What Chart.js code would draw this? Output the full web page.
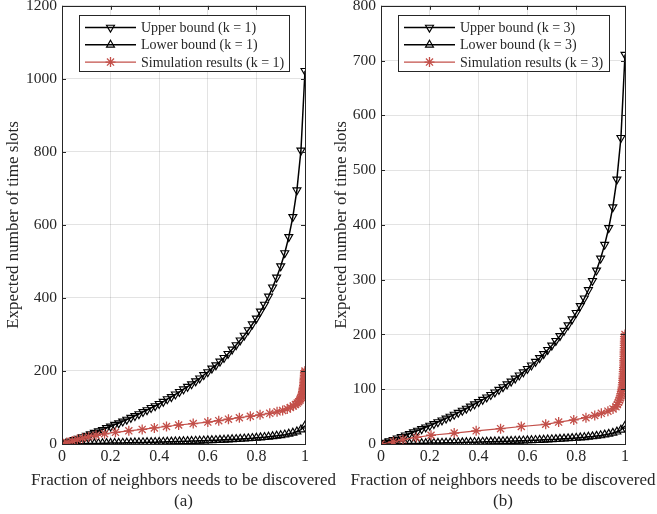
<!DOCTYPE html>
<html>
<head>
<meta charset="utf-8">
<script src="https://cdn.jsdelivr.net/npm/chart.js@4.4.1/dist/chart.umd.min.js"></script>
<style>
  html, body { margin: 0; padding: 0; background: #fff; }
  #wrap { position: relative; width: 657px; height: 514px; overflow: hidden; }
  canvas { position: absolute; }
</style>
</head>
<body>
<div id="wrap">
  <canvas id="chartA" width="345" height="519" style="left:0px;top:-5px"></canvas>
  <canvas id="chartB" width="331" height="519" style="left:326px;top:-5px"></canvas>
</div>
<script>
// fraction of neighbours discovered (x of the bound curves)
const fraction = [0, 0.0167, 0.0333, 0.05, 0.0667, 0.0833, 0.1, 0.1167, 0.1333, 0.15, 0.1667,
  0.1833, 0.2, 0.2167, 0.2333, 0.25, 0.2667, 0.2833, 0.3, 0.3167, 0.3333,
  0.35, 0.3667, 0.3833, 0.4, 0.4167, 0.4333, 0.45, 0.4667, 0.4833, 0.5,
  0.5167, 0.5333, 0.55, 0.5667, 0.5833, 0.6, 0.6167, 0.6333, 0.65, 0.6667,
  0.6833, 0.7, 0.7167, 0.7333, 0.75, 0.7667, 0.7833, 0.8, 0.8167, 0.8333,
  0.85, 0.8667, 0.8833, 0.9, 0.9167, 0.9333, 0.95, 0.9667, 0.9833, 1];

const upperK1 = [0, 4, 7, 11, 15, 19, 23, 27, 31, 35, 39,
  44, 48, 53, 57, 62, 67, 72, 77, 82, 88,
  93, 99, 104, 110, 116, 123, 129, 136, 143, 150,
  157, 164, 172, 180, 189, 197, 207, 216, 226, 236,
  247, 259, 271, 284, 297, 312, 328, 344, 363, 382,
  404, 429, 456, 487, 523, 567, 622, 695, 804, 1022];
const lowerK1 = [0, 0.2, 0.4, 0.5, 0.7, 0.9, 1.1, 1.3, 1.5, 1.7, 1.9,
  2.1, 2.4, 2.6, 2.8, 3.0, 3.3, 3.5, 3.8, 4.0, 4.3,
  4.6, 4.8, 5.1, 5.4, 5.7, 6.0, 6.3, 6.6, 7.0, 7.3,
  7.7, 8.1, 8.4, 8.8, 9.2, 9.7, 10.1, 10.6, 11.1, 11.6,
  12.1, 12.7, 13.3, 13.9, 14.6, 15.3, 16.0, 16.9, 17.8, 18.7,
  19.8, 21.0, 22.3, 23.9, 25.6, 27.8, 30.5, 34.0, 39.4, 50.1];
const upperK3 = [0, 2.5, 5.1, 7.7, 10.4, 13.1, 15.9, 18.7, 21.6, 24.5, 27.4,
  30.5, 33.6, 36.7, 40.0, 43.3, 46.7, 50.1, 53.7, 57.3, 61.0,
  64.8, 68.7, 72.7, 76.8, 81.0, 85.3, 89.8, 94.4, 99.1, 104.0,
  109.1, 114.3, 119.8, 125.4, 131.2, 137.3, 143.6, 150.2, 157.1, 164.4,
  172.0, 180.0, 188.4, 197.3, 206.8, 217.0, 227.8, 239.5, 252.2, 266.0,
  281.2, 298.0, 317.0, 338.7, 364.0, 394.4, 432.4, 483.0, 559.0, 710.9];
const lowerK3 = [0, 0.1, 0.2, 0.4, 0.5, 0.6, 0.7, 0.9, 1.0, 1.1, 1.3,
  1.4, 1.6, 1.7, 1.9, 2.0, 2.2, 2.3, 2.5, 2.7, 2.8,
  3.0, 3.2, 3.4, 3.6, 3.8, 4.0, 4.2, 4.4, 4.6, 4.8,
  5.1, 5.3, 5.6, 5.8, 6.1, 6.4, 6.7, 7.0, 7.3, 7.6,
  8.0, 8.4, 8.7, 9.2, 9.6, 10.1, 10.6, 11.1, 11.7, 12.3,
  13.1, 13.8, 14.7, 15.7, 16.9, 18.3, 20.1, 22.4, 25.9, 33.0];

// simulation: time slot and the fraction found by then
const simSlots = [0, 4, 8, 12, 16, 20, 24, 28, 32, 36, 40, 44, 48, 52, 56, 60, 64, 68, 72, 76,
  80, 84, 88, 92, 96, 100, 104, 108, 112, 116, 120, 124, 128, 132, 136, 140, 144, 148,
  152, 156, 160, 164, 168, 172, 176, 180, 184, 188, 192, 196, 200];
const simFracK1 = [0, 0.02, 0.042, 0.063, 0.085, 0.11, 0.14, 0.175, 0.22, 0.275, 0.33,
  0.38, 0.43, 0.48, 0.54, 0.60, 0.645, 0.685, 0.73, 0.775, 0.815,
  0.855, 0.885, 0.908, 0.927, 0.94, 0.952, 0.961, 0.968, 0.974, 0.979,
  0.982, 0.985, 0.987, 0.989, 0.991, 0.992, 0.993, 0.994, 0.995, 0.996,
  0.9965, 0.997, 0.9975, 0.998, 0.9985, 0.999, 0.9993, 0.9995, 0.9997, 0.9999];
const simFracK3 = [0, 0.05, 0.09, 0.145, 0.205, 0.30, 0.39, 0.49, 0.575, 0.675, 0.728,
  0.79, 0.84, 0.876, 0.903, 0.93, 0.951, 0.963, 0.969, 0.973, 0.977,
  0.98, 0.983, 0.985, 0.987, 0.989, 0.99, 0.991, 0.992, 0.993, 0.9935,
  0.994, 0.9945, 0.995, 0.9955, 0.996, 0.9965, 0.997, 0.9972, 0.9975, 0.9978,
  0.998, 0.9983, 0.9985, 0.9988, 0.999, 0.9992, 0.9994, 0.9996, 0.9998, 1.0];

const xTicks = [0, 0.2, 0.4, 0.6, 0.8, 1];
const xTitle = 'Fraction of neighbors needs to be discovered';

const INK = '#262626';
const SIM_RED = '#c3504a';
const SERIF = "'Liberation Serif', 'DejaVu Serif', serif";

function pts(xs, ys) {
  return xs.map((x, i) => ({ x: x, y: ys[i] }));
}

// box, inward ticks, x title and the legend drawn inside the axes
const boxPlugin = {
  id: 'matlabBox',
  afterDraw(chart, args, opts) {
    const ctx = chart.ctx;
    const a = chart.chartArea;
    ctx.save();
    ctx.strokeStyle = INK;
    ctx.lineWidth = 1;
    const xs = chart.scales.x, ys = chart.scales.y;
    ctx.beginPath();
    xs.ticks.forEach(t => {
      const px = Math.round(xs.getPixelForValue(t.value)) + 0.5;
      ctx.moveTo(px, a.bottom); ctx.lineTo(px, a.bottom - 4);
      ctx.moveTo(px, a.top); ctx.lineTo(px, a.top + 4);
    });
    ys.ticks.forEach(t => {
      const py = Math.round(ys.getPixelForValue(t.value)) + 0.5;
      ctx.moveTo(a.left, py); ctx.lineTo(a.left + 4, py);
      ctx.moveTo(a.right, py); ctx.lineTo(a.right - 4, py);
    });
    ctx.stroke();
    ctx.strokeRect(Math.round(a.left) + 0.5, Math.round(a.top) + 0.5,
      Math.round(a.right - a.left), Math.round(a.bottom - a.top));

    // x title, two lines, not squeezed to the plot width
    ctx.fillStyle = INK;
    ctx.font = '17px ' + SERIF;
    ctx.textAlign = 'center';
    ctx.textBaseline = 'middle';
    const cx = (a.left + a.right) / 2;
    ctx.fillText(xTitle, cx, a.bottom + 37);
    ctx.fillText(opts.panel, cx, a.bottom + 58);

    // legend
    const L = opts.legend;
    ctx.fillStyle = '#fff';
    ctx.fillRect(L.x, L.y, L.w, L.h);
    ctx.strokeStyle = INK;
    ctx.strokeRect(L.x + 0.5, L.y + 0.5, L.w, L.h);
    ctx.font = '14px ' + SERIF;
    ctx.textAlign = 'left';
    chart.data.datasets.forEach((ds, i) => {
      const cy = L.y + 12.5 + i * 17.3;
      const x0 = L.x + 6, x1 = L.x + 57;
      ctx.strokeStyle = ds.borderColor;
      ctx.lineWidth = ds.borderWidth;
      ctx.beginPath();
      ctx.moveTo(x0, cy); ctx.lineTo(x1, cy);
      ctx.stroke();
      ctx.fillStyle = ds.pointBackgroundColor;
      ctx.strokeStyle = ds.pointBorderColor;
      ctx.lineWidth = ds.pointBorderWidth;
      Chart.helpers.drawPoint(ctx, {
        pointStyle: ds.pointStyle, rotation: ds.pointRotation || 0,
        radius: ds.pointRadius, borderWidth: ds.pointBorderWidth
      }, (x0 + x1) / 2, cy);
      ctx.fillStyle = INK;
      ctx.fillText(ds.label, L.x + 62, cy + 1);
    });
    ctx.restore();
  }
};

function makeChart(id, k, upper, lower, sim, yMax, yStep, legendBox, panel, yTitlePad, yAxisW, padRight) {
  return new Chart(document.getElementById(id), {
    type: 'line',
    data: {
      datasets: [
        {
          label: 'Upper bound (k = ' + k + ')',
          data: pts(fraction, upper),
          borderColor: '#000', borderWidth: 1.5,
          pointStyle: 'triangle', pointRotation: 180, pointRadius: 4.6,
          pointBorderWidth: 1.15, pointBorderColor: '#000', pointBackgroundColor: 'rgba(0,0,0,0)',
          order: 3
        },
        {
          label: 'Lower bound (k = ' + k + ')',
          data: pts(fraction, lower),
          borderColor: '#000', borderWidth: 1.5,
          pointStyle: 'triangle', pointRotation: 0, pointRadius: 4.6,
          pointBorderWidth: 1.15, pointBorderColor: '#000', pointBackgroundColor: 'rgba(0,0,0,0)',
          order: 2
        },
        {
          label: 'Simulation results (k = ' + k + ')',
          data: pts(sim, simSlots),
          borderColor: SIM_RED, borderWidth: 1.2,
          pointStyle: 'star', pointRadius: 5,
          pointBorderWidth: 1.3, pointBorderColor: SIM_RED, pointBackgroundColor: SIM_RED,
          order: 1
        }
      ]
    },
    options: {
      responsive: false,
      animation: false,
      events: [],
      layout: { padding: { top: 0, right: padRight, bottom: 0, left: 0 } },
      plugins: {
        legend: { display: false },
        tooltip: { enabled: false },
        matlabBox: { legend: legendBox, panel: panel }
      },
      scales: {
        x: {
          type: 'linear', min: 0, max: 1,
          afterBuildTicks: s => { s.ticks = xTicks.map(v => ({ value: v })); },
          afterFit: s => { s.height = 70; },
          grid: { color: 'rgba(38,38,38,0.13)', drawTicks: false },
          border: { display: false },
          ticks: {
            color: INK, padding: 3, maxRotation: 0,
            font: { family: SERIF, size: 16 },
            callback: v => String(v)
          }
        },
        y: {
          min: 0, max: yMax,
          afterFit: s => { s.width = yAxisW; },
          grid: { color: 'rgba(38,38,38,0.13)', drawTicks: false },
          border: { display: false },
          ticks: {
            stepSize: yStep, color: INK, padding: 5,
            font: { family: SERIF, size: 15.5, lineHeight: 0.75 },
            callback: v => String(v)
          },
          title: {
            display: true, text: 'Expected number of time slots',
            color: INK, font: { family: SERIF, size: 17, lineHeight: 1.2 },
            padding: { top: yTitlePad, bottom: 0 }
          }
        }
      }
    },
    plugins: [boxPlugin]
  });
}

makeChart('chartA', 1, upperK1, lowerK1, simFracK1, 1200, 200,
  { x: 79, y: 20, w: 210, h: 56 }, '(a)', 3.8, 62, 40);
makeChart('chartB', 3, upperK3, lowerK3, simFracK3, 800, 100,
  { x: 72, y: 20, w: 211, h: 56 }, '(b)', 5.8, 55, 32);
</script>
</body>
</html>
